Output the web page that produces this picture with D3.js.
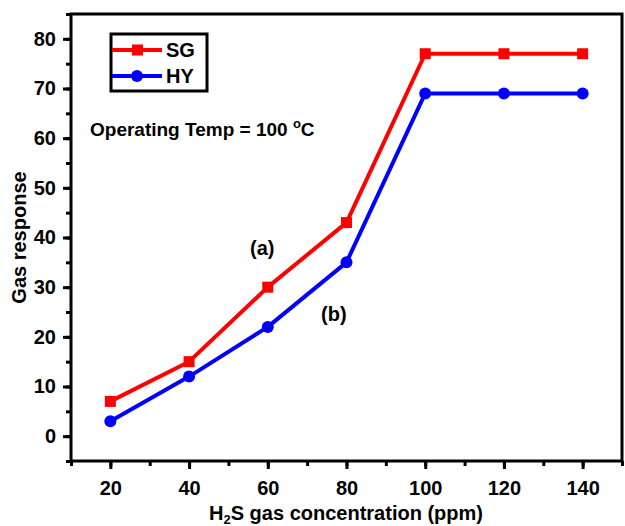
<!DOCTYPE html>
<html>
<head>
<meta charset="utf-8">
<script src="https://cdn.jsdelivr.net/npm/d3@7"></script>
<style>
  body { margin: 0; background: #fff; }
  svg { font-family: "Liberation Sans", Arial, sans-serif; font-weight: bold; }
</style>
</head>
<body>
<svg id="chart" width="625" height="526"></svg>
<script>
const conc = [20, 40, 60, 80, 100, 120, 140];
const sgResp = [7, 15, 30, 43, 77, 77, 77];
const hyResp = [3, 12, 22, 35, 69, 69, 69];
const xTicks = [20, 40, 60, 80, 100, 120, 140];
const yTicks = [0, 10, 20, 30, 40, 50, 60, 70, 80];

const series = [
  {name: "SG", colour: "#ff0000", shape: "square", values: sgResp},
  {name: "HY", colour: "#0000ff", shape: "circle", values: hyResp}
];

let svg = d3.select("#chart");
let margin = {left: 71, top: 14, right: 3, bottom: 65};
let width = 625, height = 526;

let x = d3.scaleLinear().domain([10, 150]).range([margin.left, width - margin.right]);
let y = d3.scaleLinear().domain([-5, 85]).range([height - margin.bottom, margin.top]);

function styleAxis(g){
  g.select(".domain").remove();
  g.selectAll(".tick line").attr("stroke", "#000").attr("stroke-width", 3);
  g.selectAll(".tick text").attr("fill", "#000").attr("font-size", 20)
    .attr("font-family", "Liberation Sans, Arial, sans-serif").attr("font-weight", "bold");
}

// minor ticks
svg.append("g").attr("transform", `translate(0,${height - margin.bottom})`)
  .call(d3.axisBottom(x).tickValues(d3.range(10, 151, 10)).tickSize(5).tickFormat(""))
  .call(styleAxis);
svg.append("g").attr("transform", `translate(${margin.left},0)`)
  .call(d3.axisLeft(y).tickValues(d3.range(-5, 86, 5)).tickSize(5).tickFormat(""))
  .call(styleAxis);

// major ticks
svg.append("g").attr("transform", `translate(0,${height - margin.bottom})`)
  .call(d3.axisBottom(x).tickValues(xTicks).tickSize(8).tickPadding(12))
  .call(styleAxis);
svg.append("g").attr("transform", `translate(${margin.left},0)`)
  .call(d3.axisLeft(y).tickValues(yTicks).tickSize(8).tickPadding(7))
  .call(styleAxis);

// frame
svg.append("rect")
  .attr("x", margin.left).attr("y", margin.top)
  .attr("width", width - margin.right - margin.left)
  .attr("height", height - margin.bottom - margin.top)
  .attr("fill", "none").attr("stroke", "#000").attr("stroke-width", 3);

// axis titles
svg.append("text")
  .attr("transform", `translate(26,${(margin.top + height - margin.bottom) / 2}) rotate(-90)`)
  .attr("text-anchor", "middle").attr("font-size", 20)
  .text("Gas response");

let xt = svg.append("text")
  .attr("x", 346).attr("y", 520)
  .attr("text-anchor", "middle").attr("font-size", 20);
xt.append("tspan").text("H");
xt.append("tspan").attr("font-size", 13).attr("dy", 4).text("2");
xt.append("tspan").attr("dy", -4).text("S gas concentration (ppm)");

// lines and markers
let line = d3.line().x((d, i) => x(conc[i])).y(d => y(d));
let mainG = svg.append("g");
series.forEach(s => {
  mainG.append("path")
    .attr("d", line(s.values))
    .attr("fill", "none").attr("stroke", s.colour).attr("stroke-width", 4)
    .attr("stroke-linejoin", "round");
  if (s.shape === "square") {
    mainG.selectAll(null).data(s.values).join("rect")
      .attr("x", (d, i) => x(conc[i]) - 5.5).attr("y", d => y(d) - 5.5)
      .attr("width", 11).attr("height", 11).attr("fill", s.colour);
  } else {
    mainG.selectAll(null).data(s.values).join("circle")
      .attr("cx", (d, i) => x(conc[i])).attr("cy", d => y(d))
      .attr("r", 6).attr("fill", s.colour);
  }
});

// legend
let legend = svg.append("g");
legend.append("rect")
  .attr("x", 111).attr("y", 34).attr("width", 96).attr("height", 57)
  .attr("fill", "#fff").attr("stroke", "#000").attr("stroke-width", 3);
series.forEach((s, i) => {
  let ly = 50 + i * 26;
  legend.append("line")
    .attr("x1", 112).attr("x2", 162).attr("y1", ly).attr("y2", ly)
    .attr("stroke", s.colour).attr("stroke-width", 4);
  if (s.shape === "square") {
    legend.append("rect").attr("x", 132).attr("y", ly - 5.5).attr("width", 11).attr("height", 11).attr("fill", s.colour);
  } else {
    legend.append("circle").attr("cx", 137).attr("cy", ly).attr("r", 6).attr("fill", s.colour);
  }
  legend.append("text").attr("x", 166).attr("y", ly + 7).attr("font-size", 20).text(s.name);
});

// annotations
let op = svg.append("text").attr("x", 90).attr("y", 136).attr("font-size", 19);
op.append("tspan").text("Operating Temp = 100 ");
op.append("tspan").attr("font-size", 13).attr("dy", -8).text("o");
op.append("tspan").attr("dy", 8).text("C");

svg.append("text").attr("x", 250).attr("y", 255).attr("font-size", 20).text("(a)");
svg.append("text").attr("x", 321).attr("y", 321).attr("font-size", 20).text("(b)");
</script>
</body>
</html>
